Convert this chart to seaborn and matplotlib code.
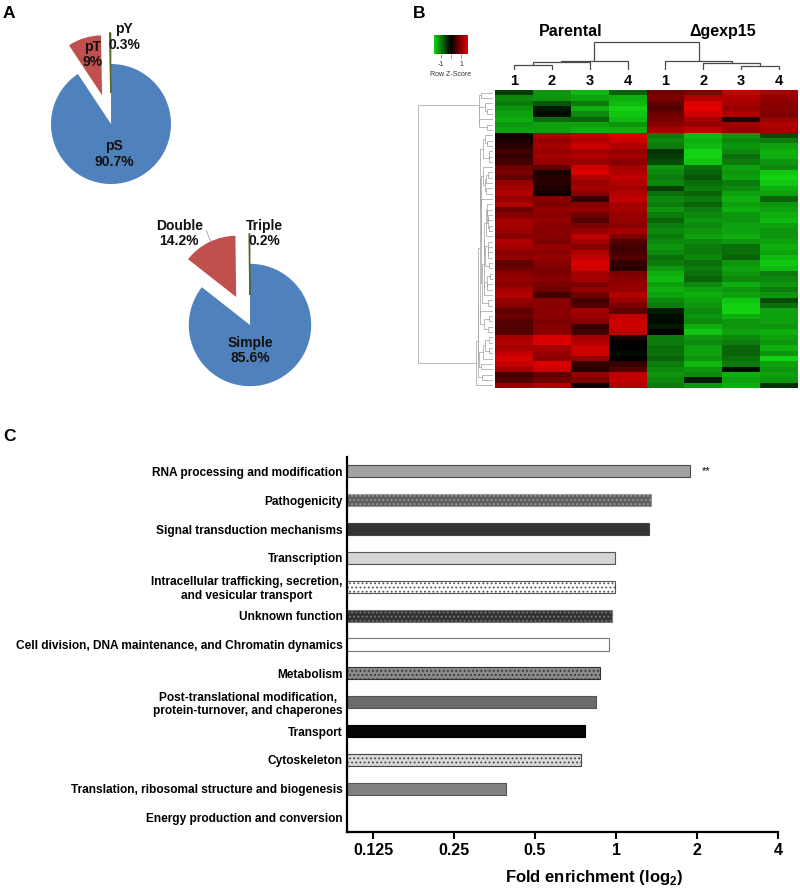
import numpy as np
import matplotlib
matplotlib.use("Agg")
import matplotlib.pyplot as plt
from matplotlib.colors import LinearSegmentedColormap, Normalize
from matplotlib.cm import ScalarMappable
from matplotlib.ticker import FixedLocator, NullLocator
import seaborn as sns

# --- A: phospho-site pies ---
site_names = ["pS", "pT", "pY"]
site_pct = [90.7, 9.0, 0.3]
site_text = ["90.7%", "9%", "0.3%"]
multi_names = ["Simple", "Double", "Triple"]
multi_pct = [85.6, 14.2, 0.2]
multi_text = ["85.6%", "14.2%", "0.2%"]

# --- B: row z-scores (Parental 1-4, Δgexp15 1-4) ---
groups = ["Parental", "Δgexp15"]
replicates = ["1", "2", "3", "4", "1", "2", "3", "4"]
z_up = [
    [-0.5, -1.2, -1.5, -0.8, 0.8, 0.9, 1.4, 1.2],
    [-1.1, -1.2, -1.3, -1.4, 0.9, 1.3, 1.3, 1.1],
    [-1.0, -0.7, -1.0, -1.5, 0.7, 1.6, 1.2, 1.0],
    [-1.2, -0.2, -1.4, -1.7, 0.6, 1.7, 1.1, 1.0],
    [-1.3, -0.1, -1.1, -1.6, 0.8, 1.5, 1.3, 0.9],
    [-1.4, -0.9, -0.8, -1.5, 0.9, 1.2, 0.3, 1.1],
    [-1.2, -1.3, -1.3, -1.2, 1.0, 1.1, 1.2, 1.3],
    [-1.3, -1.3, -1.4, -1.4, 1.2, 1.4, 1.1, 1.2],
]
z_down = [
    [0.1, 1.3, 1.4, 1.6, -1.0, -1.5, -1.2, -0.6],
    [0.2, 1.1, 1.3, 1.5, -1.1, -1.4, -1.1, -1.0],
    [0.3, 1.2, 1.5, 1.3, -1.0, -1.5, -1.2, -1.3],
    [0.5, 1.1, 1.2, 1.1, -0.4, -1.7, -1.1, -1.4],
    [0.4, 1.2, 1.3, 1.2, -0.5, -1.7, -0.9, -1.4],
    [0.5, 1.1, 1.1, 1.0, -0.6, -1.6, -1.0, -1.2],
    [0.8, 0.7, 1.5, 1.2, -1.2, -0.9, -1.3, -1.1],
    [0.9, 0.2, 1.6, 1.3, -1.1, -0.8, -1.2, -1.6],
    [0.7, 0.3, 1.3, 1.4, -1.0, -0.7, -1.3, -1.7],
    [1.1, 0.3, 1.1, 1.3, -1.1, -0.9, -1.0, -1.6],
    [1.2, 0.2, 1.2, 1.2, -0.5, -1.0, -1.1, -1.4],
    [1.3, 0.1, 1.0, 1.3, -0.9, -0.8, -1.3, -1.3],
    [1.1, 1.0, 0.4, 1.4, -1.1, -1.0, -1.4, -0.8],
    [1.3, 0.9, 1.0, 1.2, -1.0, -0.8, -1.3, -1.2],
    [0.8, 1.1, 1.1, 1.2, -1.2, -1.0, -1.4, -1.3],
    [1.0, 1.0, 0.8, 1.1, -1.0, -1.1, -1.2, -1.4],
    [1.2, 1.1, 0.6, 1.1, -0.8, -1.2, -1.2, -1.5],
    [1.2, 1.0, 0.9, 1.0, -1.0, -1.1, -1.3, -1.3],
    [1.1, 1.0, 1.1, 1.2, -1.1, -1.2, -1.3, -1.2],
    [1.0, 1.0, 1.4, 0.9, -1.0, -1.3, -1.4, -1.2],
    [1.3, 0.9, 1.2, 0.6, -1.1, -1.1, -1.2, -1.3],
    [1.2, 1.1, 1.0, 0.5, -1.2, -1.0, -0.9, -1.4],
    [1.0, 1.0, 1.3, 0.5, -1.1, -1.0, -0.9, -1.3],
    [1.1, 1.1, 1.4, 0.6, -0.9, -1.1, -0.8, -1.5],
    [0.7, 1.0, 1.6, 0.4, -1.0, -0.9, -1.2, -1.6],
    [0.8, 0.9, 1.5, 0.3, -1.2, -1.0, -1.3, -1.5],
    [1.0, 0.9, 1.2, 0.9, -1.4, -0.9, -1.2, -1.0],
    [1.1, 1.0, 1.2, 1.0, -1.5, -0.8, -1.1, -1.1],
    [1.0, 0.9, 0.9, 1.1, -1.3, -1.1, -1.4, -1.2],
    [1.2, 0.8, 1.1, 1.1, -1.4, -1.3, -1.2, -1.0],
    [1.3, 0.5, 0.8, 1.3, -1.3, -1.4, -1.3, -1.2],
    [1.1, 1.0, 0.5, 1.1, -1.1, -1.3, -1.6, -0.6],
    [1.0, 1.0, 0.6, 0.9, -1.0, -1.2, -1.7, -0.9],
    [0.7, 1.0, 1.2, 0.7, -0.2, -1.1, -1.8, -1.3],
    [0.8, 1.0, 1.1, 1.4, -0.1, -1.2, -1.4, -1.3],
    [0.6, 0.9, 1.0, 1.5, -0.1, -1.1, -1.2, -1.3],
    [0.6, 1.0, 0.4, 1.5, -0.2, -1.4, -1.2, -1.2],
    [0.6, 1.0, 0.5, 1.4, 0.0, -1.6, -1.3, -1.4],
    [1.2, 1.6, 1.2, 0.2, -1.0, -1.2, -1.1, -1.3],
    [1.3, 1.6, 1.3, 0.0, -1.0, -1.1, -1.0, -1.2],
    [1.2, 1.2, 1.5, 0.0, -0.9, -1.3, -0.8, -1.4],
    [1.4, 1.1, 1.5, -0.1, -0.9, -1.3, -0.8, -1.2],
    [1.6, 1.0, 1.1, 0.0, -0.8, -1.2, -0.9, -1.8],
    [1.4, 1.6, 0.4, 0.4, -1.0, -1.5, -1.0, -1.3],
    [1.2, 1.5, 0.3, 0.6, -1.1, -1.2, -0.1, -1.2],
    [0.5, 0.7, 1.1, 1.4, -1.2, -1.1, -1.4, -1.3],
    [0.6, 0.8, 0.9, 1.4, -1.1, -0.2, -1.3, -1.2],
    [1.1, 1.3, 0.1, 1.3, -1.0, -1.2, -1.4, -0.4],
]
# column tree: (child a, child b, height); new nodes numbered from 8
col_merges = [(0, 1, 5.0), (8, 2, 7.3), (9, 3, 9.0),
              (6, 7, 4.3), (5, 11, 6.7), (4, 12, 8.3), (10, 13, 27.3)]

# --- C: fold enrichment per functional category ---
categories = [
    "RNA processing and modification",
    "Pathogenicity",
    "Signal transduction mechanisms",
    "Transcription",
    "Intracellular trafficking, secretion,\nand vesicular transport",
    "Unknown function",
    "Cell division, DNA maintenance, and Chromatin dynamics",
    "Metabolism",
    "Post-translational modification,\nprotein-turnover, and chaperones",
    "Transport",
    "Cytoskeleton",
    "Translation, ribosomal structure and biogenesis",
    "Energy production and conversion",
]
fold_enrichment = [1.88, 1.35, 1.33, 0.99, 0.99, 0.97, 0.94, 0.87, 0.84, 0.77, 0.74, 0.39, 0.0]
significance = ["**", "", "", "", "", "", "", "", "", "", "", "", ""]
x_ticks = [0.125, 0.25, 0.5, 1, 2, 4]
x_ticklabels = ["0.125", "0.25", "0.5", "1", "2", "4"]

# styles
pie_colors = ["#4f81bd", "#c0504d", "#9bbb59"]
bar_colors = ["#a2a2a4", "#5f5f5f", "#333333", "#d4d4d4", "#ffffff", "#333333", "#ffffff",
              "#8a8a8a", "#6b6b6b", "#050505", "#dadada", "#808080", "#ffffff"]
bar_edges = ["#4a4a4a", "#9a9a9a", "#444444", "#555555", "#555555", "#777777", "#777777",
             "#333333", "#555555", "#000000", "#444444", "#555555", "none"]
bar_hatches = ["", "....", "", "", "....", "....", "", "....", "", "", "....", "", ""]

sns.set_style("white")
plt.rcParams["font.family"] = ["Liberation Sans", "DejaVu Sans"]
plt.rcParams["mathtext.fontset"] = "custom"
plt.rcParams["mathtext.bf"] = "Liberation Sans:bold"
plt.rcParams["mathtext.rm"] = "Liberation Sans"
plt.rcParams["hatch.linewidth"] = 0.8
for key in ["text.color", "axes.labelcolor", "xtick.color", "ytick.color"]:
    plt.rcParams[key] = "black"

W, H = 800, 890
fig = plt.figure(figsize=(W / 100, H / 100), dpi=100)


def px_axes(x0, y0, x1, y1):
    # axes from pixel box (top-left origin)
    return fig.add_axes([x0 / W, 1 - y1 / H, (x1 - x0) / W, (y1 - y0) / H])


def draw_pie(ax, pct, names, texts, explode, radius, label_xy, leader=None):
    wedges, _ = ax.pie(pct, colors=pie_colors, startangle=90, counterclock=False,
                       explode=explode, radius=radius, wedgeprops=dict(linewidth=0))
    wedges[2].set_edgecolor("#56662c")
    wedges[2].set_linewidth(0.9)
    for name, t, (lx, ly) in zip(names, texts, label_xy):
        ax.text(lx, ly, f"{name}\n{t}", ha="center", va="center", fontsize=10,
                fontweight="bold", color="#111111", linespacing=1.1)
    if leader is not None:
        ax.plot(*leader, color="#a0a0a0", lw=0.6)
    lim = 100 / 60
    ax.set_xlim(-lim, lim)
    ax.set_ylim(-lim, lim)
    ax.axis("off")


ax_p1 = px_axes(11, 24, 211, 224)
draw_pie(ax_p1, site_pct, site_names, site_text, [0, 0.5, 0.52], 1.0,
         [(0.05, -0.5), (-0.31, 1.16), (0.22, 1.45)])
ax_p2 = px_axes(150, 225, 350, 425)
draw_pie(ax_p2, multi_pct, multi_names, multi_text, [0, 0.52, 0.5], 1.02,
         [(0.0, -0.43), (-1.18, 1.52), (0.24, 1.52)],
         leader=([-0.73, -0.65], [1.58, 1.38]))

# --- heatmap ---
zmat = np.vstack([np.array(z_up), np.array(z_down)])
n_rows = zmat.shape[0]
cmap = LinearSegmentedColormap.from_list("greenred", ["#12d212", "#000000", "#e80000"])
zlim = 1.7

ax_h = px_axes(495, 90, 798, 388)
sns.heatmap(zmat, cmap=cmap, vmin=-zlim, vmax=zlim, cbar=False, ax=ax_h,
            xticklabels=replicates, yticklabels=False)
ax_h.xaxis.tick_top()
ax_h.tick_params(axis="x", length=0, pad=1.5, labelsize=10.5, rotation=0)
for lab in ax_h.get_xticklabels():
    lab.set_fontweight("bold")
for g, grp in enumerate(groups):
    ax_h.text(4 * g + 2, 1.18, grp, transform=ax_h.get_xaxis_transform(),
              ha="center", va="baseline", fontsize=11.5, fontweight="bold")

# column dendrogram
ax_cd = px_axes(495, 41, 798, 70)
pos = {i: i + 0.5 for i in range(8)}
hgt = {i: 0.0 for i in range(8)}
for k, (a, b, h) in enumerate(col_merges):
    ax_cd.plot([pos[a], pos[a], pos[b], pos[b]], [hgt[a], h, h, hgt[b]],
               color="#4a4a4a", lw=0.9, solid_joinstyle="miter")
    pos[8 + k] = (pos[a] + pos[b]) / 2
    hgt[8 + k] = h
ax_cd.set_xlim(0, 8)
ax_cd.set_ylim(0, col_merges[-1][2] * 1.03)
ax_cd.axis("off")

# row dendrogram: neighbouring clusters merged, keeping the heatmap order
nodes = [(i + 0.5, 0.0, zmat[i], 1) for i in range(n_rows)]
row_segs = []
while len(nodes) > 1:
    d = [np.linalg.norm(nodes[k][2] - nodes[k + 1][2]) for k in range(len(nodes) - 1)]
    k = int(np.argmin(d))
    a, b = nodes[k], nodes[k + 1]
    h = max(d[k], a[1], b[1])
    row_segs.append(([a[1], h, h, b[1]], [a[0], a[0], b[0], b[0]]))
    n = a[3] + b[3]
    nodes[k:k + 2] = [((a[0] + b[0]) / 2, h, (a[2] * a[3] + b[2] * b[3]) / n, n)]
root_h = nodes[0][1]
ax_rd = px_axes(405, 90, 493, 388)
for xs, ys in row_segs:
    ax_rd.plot(xs, ys, color="#a0a0a0", lw=0.5)
ax_rd.set_xlim(root_h / 0.852, 0)
ax_rd.set_ylim(n_rows, 0)
ax_rd.axis("off")

# colour key
cax = px_axes(434, 35, 468, 54)
cb = fig.colorbar(ScalarMappable(norm=Normalize(-zlim, zlim), cmap=cmap), cax=cax,
                  orientation="horizontal", ticks=[-1, 0, 1])
cb.outline.set_visible(False)
cax.set_xticklabels(["-1", "", "1"])
cax.tick_params(axis="x", length=3, width=0.5, color="#777777", labelsize=5,
                labelcolor="#333333", pad=2)
cax.set_xlabel("Row Z-Score", fontsize=5, color="#333333", labelpad=2)

# --- C: bar chart ---
ax_b = px_axes(347, 457, 778, 832)
sns.barplot(x=fold_enrichment, y=categories, hue=categories, palette=bar_colors,
            legend=False, orient="h", width=0.42, ax=ax_b, saturation=1)
for bar, ec, hatch in zip(ax_b.patches, bar_edges, bar_hatches):
    bar.set_edgecolor(ec)
    bar.set_linewidth(0.8)
    if hatch:
        bar.set_hatch(hatch)
ax_b.set_xscale("log", base=2)
ax_b.set_xlim(0.1, 4)
ax_b.xaxis.set_major_locator(FixedLocator(x_ticks))
ax_b.xaxis.set_minor_locator(NullLocator())
ax_b.set_xticklabels(x_ticklabels)
ax_b.tick_params(axis="x", length=5, width=1.5, direction="out", bottom=True,
                 labelsize=11.5, pad=3)
ax_b.tick_params(axis="y", length=0, pad=3, labelsize=8.6)
for lab in ax_b.get_xticklabels():
    lab.set_fontweight("bold")
for lab in ax_b.get_yticklabels():
    lab.set_fontweight("bold")
    lab.set_multialignment("center")
for i, (v, s) in enumerate(zip(fold_enrichment, significance)):
    if s:
        ax_b.text(v * 1.11, i, s, ha="left", va="center", fontsize=8)
ax_b.set_xlabel(r"Fold enrichment (log$_\mathbf{2}$)", fontsize=12, fontweight="bold")
ax_b.xaxis.set_label_coords(0.573, -0.097)
ax_b.set_ylabel("")
sns.despine(ax=ax_b)
for side in ["left", "bottom"]:
    ax_b.spines[side].set_linewidth(1.6)
    ax_b.spines[side].set_color("black")

# panel letters
for letter, (x, y) in zip("ABC", [(3, 18), (413, 18), (3, 441)]):
    fig.text(x / W, 1 - y / H, letter, fontsize=12.5, fontweight="bold", va="baseline")

fig.savefig("out.png", dpi=100)
